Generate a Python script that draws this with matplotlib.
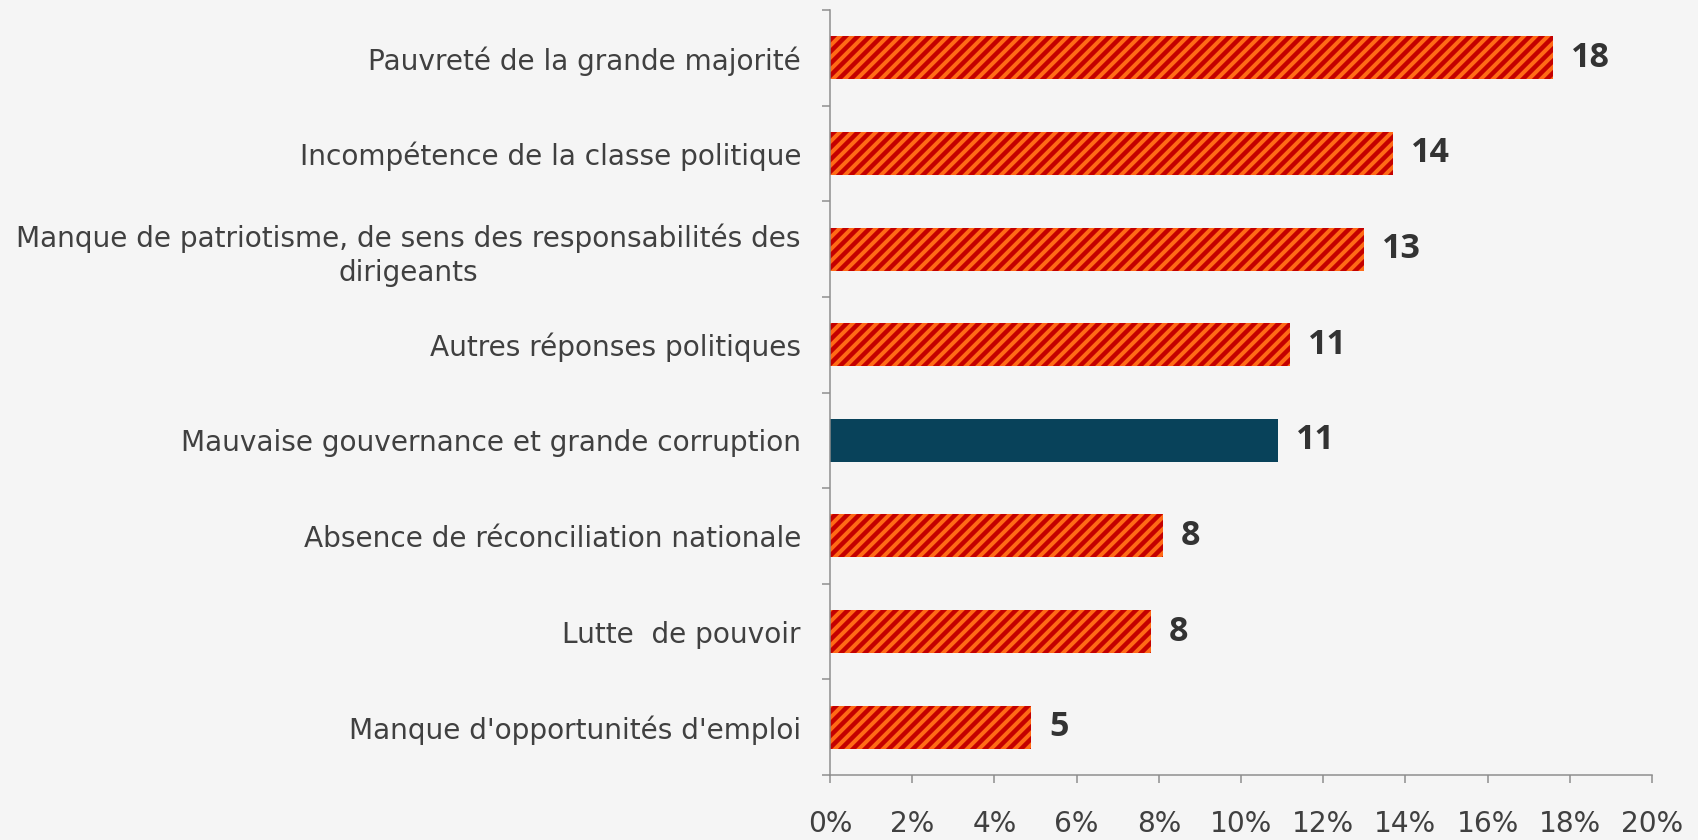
import matplotlib.pyplot as plt

categories = [
    "Pauvreté de la grande majorité",
    "Incompétence de la classe politique",
    "Manque de patriotisme, de sens des responsabilités des\ndirigeants",
    "Autres réponses politiques",
    "Mauvaise gouvernance et grande corruption",
    "Absence de réconciliation nationale",
    "Lutte  de pouvoir",
    "Manque d'opportunités d'emploi",
]
values = [17.6, 13.7, 13.0, 11.2, 10.9, 8.1, 7.8, 4.9]
value_labels = ["18", "14", "13", "11", "11", "8", "8", "5"]
highlight = "Mauvaise gouvernance et grande corruption"
xticks = list(range(0, 21, 2))

bg = "#F5F5F5"
red = "#C40000"
orange = "#FF6A16"
blue = "#08425A"
axis_col = "#8C8C8C"
text_col = "#404040"

plt.rcParams["hatch.linewidth"] = 4

fig = plt.figure(figsize=(1698 / 72, 840 / 72), dpi=72, facecolor=bg)
ax = fig.add_axes([830 / 1698, 1 - 775 / 840, (1652 - 830) / 1698, (775 - 10) / 840])
ax.set_facecolor(bg)

ypos = list(range(len(categories)))
for y, cat, v, lab in zip(ypos, categories, values, value_labels):
    if cat == highlight:
        ax.barh(y, v, height=0.45, color=blue, linewidth=0)
    else:
        ax.barh(y, v, height=0.45, color=red, edgecolor=orange, linewidth=0, hatch="//")
    ax.annotate(lab, (v, y), xytext=(18, 0), textcoords="offset points",
                ha="left", va="center", fontsize=34, fontweight="bold",
                color="#333333", family="Open Sans")

ax.set_ylim(len(categories) - 0.5, -0.5)
ax.set_xlim(0, 20)

ax.set_yticks(ypos)
ax.set_yticklabels(categories, fontsize=28, color=text_col, family="DejaVu Sans",
                   multialignment="center", linespacing=1.3)
ax.set_yticks([i - 0.5 for i in range(len(categories) + 1)], minor=True)
ax.tick_params(axis="y", which="major", length=0, pad=29)
ax.tick_params(axis="y", which="minor", length=8, width=1.5, color=axis_col)

ax.set_xticks(xticks)
ax.set_xticklabels([f"{t}%" for t in xticks], fontsize=28, color=text_col, family="DejaVu Sans")
ax.tick_params(axis="x", length=8, width=1.5, color=axis_col, pad=27)

for s in ["top", "right"]:
    ax.spines[s].set_visible(False)
for s in ["left", "bottom"]:
    ax.spines[s].set_color(axis_col)
    ax.spines[s].set_linewidth(1.5)

fig.savefig("out.png", dpi=72, facecolor=bg)
